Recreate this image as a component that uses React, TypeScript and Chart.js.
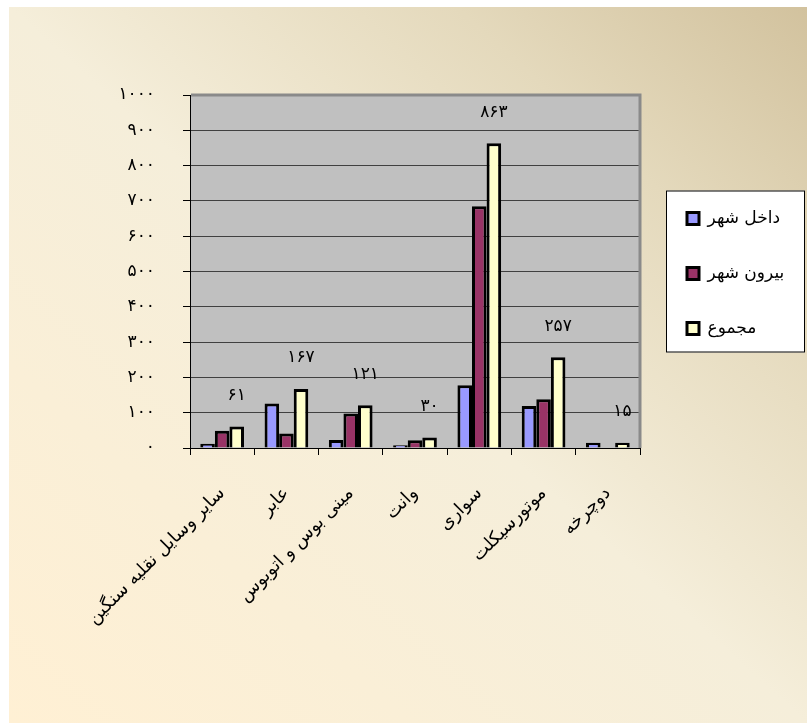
import React, { useEffect, useRef } from 'react';
import { Chart, registerables } from 'chart.js';

Chart.register(...registerables);

const categories = ['سایر وسایل نقلیه سنگین', 'عابر', 'مینی بوس و اتوبوس', 'وانت', 'سواری', 'موتورسیکلت', 'دوچرخه'];
const seriesNames = ['داخل شهر', 'بیرون شهر', 'مجموع'];
const insideCity = [12, 126, 23, 8, 178, 119, 15];
const outsideCity = [49, 41, 98, 22, 685, 138, 0];
const totalValues = [61, 167, 121, 30, 863, 257, 15];
const yTickLabels = ['۰', '۱۰۰', '۲۰۰', '۳۰۰', '۴۰۰', '۵۰۰', '۶۰۰', '۷۰۰', '۸۰۰', '۹۰۰', '۱۰۰۰'];

const FONT = "'DejaVu Sans', sans-serif";
const faDigits = '۰۱۲۳۴۵۶۷۸۹';
const toFa = (n: number) => String(n).replace(/\d/g, (d) => faDigits[+d]);

const LEGEND_W = 167;
const LEGEND_PAD = 38;

const customPlugin = {
  id: 'customLook',
  beforeLayout(chart: any) {
    const lg = chart.legend;
    if (lg && !lg.__fixed) {
      const orig = lg.fit;
      lg.fit = function () {
        orig.call(this);
        this.width = LEGEND_W;
      };
      lg.__fixed = true;
    }
  },
  afterLayout(chart: any) {
    const lg = chart.legend;
    if (lg) {
      const dx = 47 - LEGEND_PAD;
      lg.left += dx;
      lg.right += dx;
      lg.top += 2;
      lg.bottom += 2;
    }
  },
  beforeDraw(chart: any) {
    const { ctx, chartArea: a } = chart;
    ctx.save();
    ctx.fillStyle = '#C0C0C0';
    ctx.fillRect(a.left, a.top, a.right - a.left, a.bottom - a.top);
    // legend frame
    const cy = (a.top + a.bottom) / 2;
    const fl = a.right + 26;
    const fr = chart.width - 2;
    ctx.fillStyle = '#FFFFFF';
    ctx.fillRect(fl, cy - 81, fr - fl, 162);
    ctx.strokeStyle = '#000000';
    ctx.lineWidth = 1;
    ctx.strokeRect(fl + 0.5, cy - 81 + 0.5, fr - fl - 1, 161);
    ctx.restore();
  },
  afterDatasetsDraw(chart: any) {
    const { ctx, chartArea: a } = chart;
    ctx.save();
    ctx.strokeStyle = '#8A8A8A';
    ctx.lineWidth = 3;
    ctx.beginPath();
    ctx.moveTo(a.left + 1, a.top);
    ctx.lineTo(a.right, a.top);
    ctx.lineTo(a.right, a.bottom);
    ctx.stroke();
    // data labels on total series
    const meta = chart.getDatasetMeta(2);
    ctx.fillStyle = '#000';
    ctx.font = `17px ${FONT}`;
    ctx.textAlign = 'center';
    ctx.textBaseline = 'middle';
    meta.data.forEach((el: any, i: number) => {
      ctx.fillText(toFa(totalValues[i]), el.x, el.y - 31);
    });
    ctx.restore();
  },
};

export default function App() {
  const ref = useRef<HTMLCanvasElement | null>(null);

  useEffect(() => {
    if (!ref.current) return;
    const chart = new Chart(ref.current, {
      type: 'bar',
      data: {
        labels: categories,
        datasets: [
          { label: seriesNames[0], data: insideCity, backgroundColor: '#9999FF', borderColor: '#000', borderWidth: 3 },
          { label: seriesNames[1], data: outsideCity, backgroundColor: '#993366', borderColor: '#000', borderWidth: 3 },
          { label: seriesNames[2], data: totalValues, backgroundColor: '#FFFFCC', borderColor: '#000', borderWidth: 3 },
        ],
      },
      options: {
        animation: false,
        responsive: true,
        maintainAspectRatio: false,
        layout: { padding: { top: 88, left: 0, right: 0, bottom: 0 } },
        datasets: { bar: { categoryPercentage: 0.68, barPercentage: 1 } },
        plugins: {
          tooltip: { enabled: false },
          legend: {
            position: 'right',
            fullSize: false,
            labels: {
              boxWidth: 12,
              boxHeight: 12,
              padding: LEGEND_PAD,
              color: '#000',
              font: { family: FONT, size: 17 },
            },
          },
        },
        scales: {
          x: {
            grid: { offset: true, drawOnChartArea: false, drawTicks: true, tickLength: 7, color: '#000' },
            border: { color: '#000', width: 1 },
            ticks: {
              autoSkip: false,
              maxRotation: 45,
              minRotation: 45,
              padding: 28,
              color: '#000',
              font: { family: FONT, size: 18 },
            },
            afterFit: (s: any) => {
              s.height = 275;
            },
          },
          y: {
            min: 0,
            max: 1000,
            grid: {
              color: (c: any) => (c.tick && c.tick.value === 1000 ? 'rgba(0,0,0,0)' : '#404040'),
              tickColor: '#000',
              tickLength: 7,
              lineWidth: 1,
            },
            border: { color: '#000', width: 1 },
            ticks: {
              stepSize: 100,
              padding: 28,
              color: '#000',
              font: { family: FONT, size: 17 },
              callback: (_v: any, i: number) => yTickLabels[i],
            },
            afterFit: (s: any) => {
              s.width = 181;
            },
          },
        },
      },
      plugins: [customPlugin],
    } as any);
    return () => chart.destroy();
  }, []);

  return (
    <div
      style={{
        position: 'absolute',
        left: 9,
        top: 7,
        width: 798,
        height: 716,
        background: 'linear-gradient(to top right, #FFF0D4 0%, #F5EEDA 50%, #E4D9BC 78%, #D2C29E 100%)',
      }}
    >
      <canvas ref={ref} />
    </div>
  );
}
